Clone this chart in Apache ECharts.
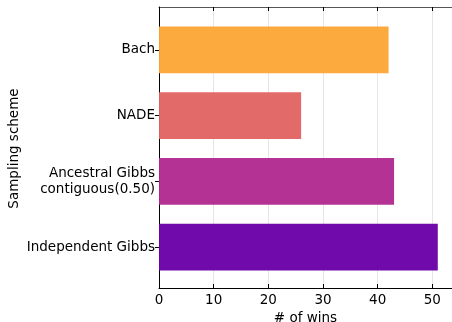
<!DOCTYPE html>
<html><head><meta charset="utf-8">
<script src="https://cdn.jsdelivr.net/npm/echarts@6/dist/echarts.min.js"></script>
<style>html,body{margin:0;padding:0;background:#fff}#c{width:452px;height:322px}</style>
</head><body><div id="c"></div>
<script>
const categories = ['Independent Gibbs', 'Ancestral Gibbs\ncontiguous(0.50)', 'NADE', 'Bach'];
const wins = [51, 43, 26, 42];
const barColors = ['#6a00a8', '#b12a90', '#e16462', '#fca636'];
const xTicks = [0, 10, 20, 30, 40, 50];

const chart = echarts.init(document.getElementById('c'));
const font = 'DejaVu Sans';
const FS = 13.5;
const XMAX = 53.6;
chart.setOption({
  animation: false,
  grid: [
    {left: 159, right: 0, top: 7, bottom: 34, containLabel: false, outerBoundsMode: 'none'},
    {left: 159, right: 0, top: 17, bottom: 42, containLabel: false, outerBoundsMode: 'none'}
  ],
  xAxis: [{
    gridIndex: 0, type: 'value', min: 0, max: XMAX, interval: 10,
    axisLine: {show: true, onZero: false, lineStyle: {color: '#000', width: 1}},
    axisTick: {show: true, inside: true, length: 4, lineStyle: {color: '#000'}, customValues: xTicks},
    axisLabel: {color: '#000', fontSize: FS, fontFamily: font, margin: 5, customValues: xTicks},
    splitLine: {show: true, lineStyle: {color: '#e6e6e6', width: 1}},
    name: '# of wins', nameLocation: 'middle', nameGap: 21,
    nameTextStyle: {color: '#000', fontSize: FS, fontFamily: font}
  }, {
    gridIndex: 1, type: 'value', min: 0, max: XMAX, show: false
  }, {
    gridIndex: 0, type: 'value', position: 'top', min: 0, max: XMAX, interval: 10,
    axisLine: {show: true, onZero: false, lineStyle: {color: '#555', width: 1}},
    axisTick: {show: true, inside: true, length: 4, lineStyle: {color: '#000'}, customValues: xTicks},
    axisLabel: {show: false}, splitLine: {show: false}
  }],
  yAxis: [{
    gridIndex: 0, type: 'value', min: 0, max: 1,
    axisLine: {show: true, lineStyle: {color: '#000', width: 1}},
    axisTick: {show: false}, axisLabel: {show: false}, splitLine: {show: false}
  }, {
    gridIndex: 1, type: 'category', data: categories,
    axisLine: {show: false},
    axisTick: {show: true, inside: false, alignWithLabel: true, length: 4, lineStyle: {color: '#000'}},
    axisLabel: {color: '#000', fontSize: FS, fontFamily: font, margin: 4, lineHeight: 16},
    splitLine: {show: false},
    name: 'Sampling scheme', nameLocation: 'middle', nameGap: 138, nameRotate: 90, nameMoveOverlap: false,
    nameTextStyle: {color: '#000', fontSize: FS, fontFamily: font}
  }],
  series: [{
    type: 'bar', xAxisIndex: 1, yAxisIndex: 1, barWidth: '71%',
    data: wins.map((w, i) => ({value: w, itemStyle: {color: barColors[i], opacity: 0.96}}))
  }]
});
</script></body></html>
